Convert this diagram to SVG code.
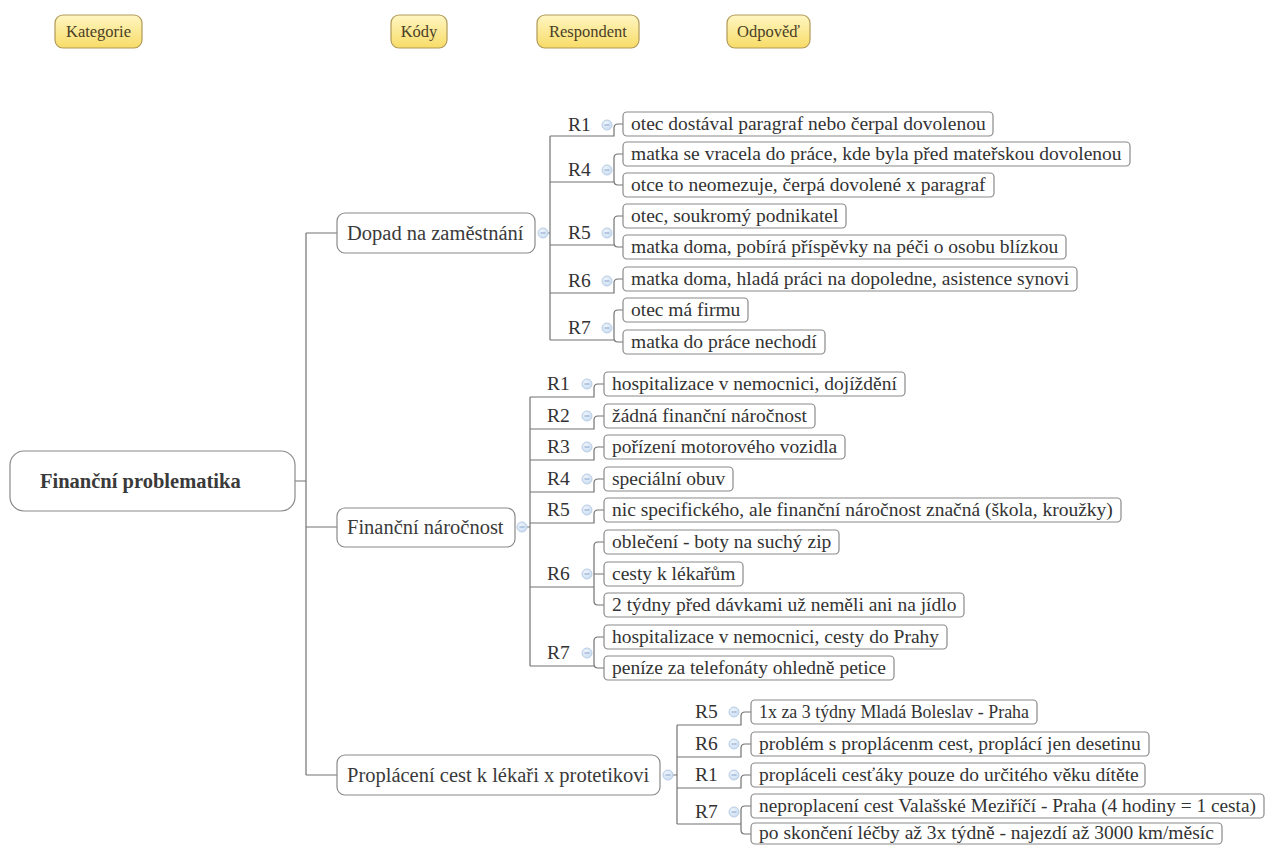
<svg xmlns="http://www.w3.org/2000/svg" width="1266" height="845" viewBox="0 0 1266 845">
  <style>
    .bg { fill: #ffffff; }
    .box { fill: #ffffff; stroke: #8a8a8a; stroke-width: 1.2; }
    .hbox { fill: url(#yellow); stroke: #b09a58; stroke-width: 1.2; }
    .t { font-family: "Liberation Serif", "Times New Roman", serif; font-size: 19.5px; fill: #333333; }
    .t2 { font-family: "Liberation Serif", "Times New Roman", serif; font-size: 20.5px; fill: #3a3a3a; }
    .root { font-family: "Liberation Serif", "Times New Roman", serif; font-size: 20.5px; font-weight: bold; fill: #3a3a3a; }
    .ht { font-family: "Liberation Serif", "Times New Roman", serif; font-size: 16.5px; fill: #4a4026; text-anchor: middle; }
    .lnk { fill: none; stroke: #727272; stroke-width: 1.2; }
    .tog { fill: url(#blue); stroke: #b9cde6; stroke-width: 1; }
    .minus { stroke: #95aed0; stroke-width: 1.2; }
  </style>
  <defs>
    <linearGradient id="yellow" x1="0" y1="0" x2="0" y2="1">
      <stop offset="0" stop-color="#fff6c2"/>
      <stop offset="1" stop-color="#f8dc68"/>
    </linearGradient>
    <radialGradient id="blue" cx="0.4" cy="0.35" r="0.7">
      <stop offset="0" stop-color="#eef4fb"/>
      <stop offset="1" stop-color="#c9dcf1"/>
    </radialGradient>
  </defs>

  <rect class="bg" x="0" y="0" width="1266" height="845"/>

  <!-- column headers -->
  <g id="hdr-kategorie">
    <rect class="hbox" x="55" y="15" width="87" height="33" rx="8"/>
    <text class="ht" x="98.5" y="37">Kategorie</text>
  </g>
  <g id="hdr-kody">
    <rect class="hbox" x="391" y="15" width="56" height="33" rx="8"/>
    <text class="ht" x="419" y="37">Kódy</text>
  </g>
  <g id="hdr-respondent">
    <rect class="hbox" x="537" y="15" width="102" height="33" rx="8"/>
    <text class="ht" x="588" y="37">Respondent</text>
  </g>
  <g id="hdr-odpoved">
    <rect class="hbox" x="727" y="15" width="83" height="33" rx="8"/>
    <text class="ht" x="768.5" y="37">Odpověď</text>
  </g>

  <!-- connectors -->
  <g id="connectors">
    <!-- root trunk -->
    <path class="lnk" d="M295 481 H306 M306 233 V775 M306 233 H337 M306 527 H337 M306 775 H337"/>

    <!-- Dopad na zaměstnání -->
    <path class="lnk" d="M548 233 H550 M550 136 V340"/>
    <path class="lnk" d="M550 136 H614 V128 Q614 124 618 124 H623"/>
    <path class="lnk" d="M550 182 H614 M623 154 H618 Q614 154 614 158 V181 Q614 185 618 185 H623"/>
    <path class="lnk" d="M550 245 H614 M623 216 H618 Q614 216 614 220 V243 Q614 247 618 247 H623"/>
    <path class="lnk" d="M550 293 H614 V283 Q614 279 618 279 H623"/>
    <path class="lnk" d="M550 340 H614 M623 310 H618 Q614 310 614 314 V338 Q614 342 618 342 H623"/>

    <!-- Finanční náročnost -->
    <path class="lnk" d="M527 527 H530 M530 397 V666"/>
    <path class="lnk" d="M530 397 H594 V388 Q594 384 598 384 H604"/>
    <path class="lnk" d="M530 429 H594 V420 Q594 416 598 416 H604"/>
    <path class="lnk" d="M530 460 H594 V451 Q594 447 598 447 H604"/>
    <path class="lnk" d="M530 492 H594 V483 Q594 479 598 479 H604"/>
    <path class="lnk" d="M530 523 H594 V514 Q594 510 598 510 H604"/>
    <path class="lnk" d="M530 587 H594 M604 542 H598 Q594 542 594 546 V601 Q594 605 598 605 H604 M594 574 H604"/>
    <path class="lnk" d="M530 666 H594 M604 637 H598 Q594 637 594 641 V664 Q594 668 598 668 H604"/>

    <!-- Proplácení cest k lékaři x protetikovi -->
    <path class="lnk" d="M673 775 H677 M677 725 V824"/>
    <path class="lnk" d="M677 725 H741 V716 Q741 712 745 712 H751"/>
    <path class="lnk" d="M677 757 H741 V748 Q741 744 745 744 H751"/>
    <path class="lnk" d="M677 788 H741 V779 Q741 775 745 775 H751"/>
    <path class="lnk" d="M677 824 H741 M751 806 H745 Q741 806 741 810 V830 Q741 834 745 834 H751"/>
  </g>

  <!-- root -->
  <g id="root">
    <rect class="box" x="10" y="451" width="285" height="60" rx="14"/>
    <text class="root" x="40" y="488">Finanční problematika</text>
  </g>

  <!-- category: Dopad na zaměstnání -->
  <g id="cat-dopad">
    <rect class="box" x="337" y="213" width="198" height="40" rx="8"/>
    <text class="t2" x="347" y="240">Dopad na zaměstnání</text>
    <circle class="tog" cx="543" cy="233" r="5"/><path class="minus" d="M540.5 233 H545.5"/>
  </g>
  <g id="dopad-r1">
    <text class="t" x="568" y="131">R1</text>
    <circle class="tog" cx="607" cy="125" r="5"/><path class="minus" d="M604.5 125 H609.5"/>
    <rect class="box" x="623" y="112" width="370" height="24" rx="4"/>
    <text class="t" x="631" y="130">otec dostával paragraf nebo čerpal dovolenou</text>
  </g>
  <g id="dopad-r4">
    <text class="t" x="568" y="176">R4</text>
    <circle class="tog" cx="607" cy="170" r="5"/><path class="minus" d="M604.5 170 H609.5"/>
    <rect class="box" x="623" y="142" width="507" height="24" rx="4"/>
    <text class="t" x="631" y="160">matka se vracela do práce, kde byla před mateřskou dovolenou</text>
    <rect class="box" x="623" y="173" width="371" height="24" rx="4"/>
    <text class="t" x="631" y="191">otce to neomezuje, čerpá dovolené x paragraf</text>
  </g>
  <g id="dopad-r5">
    <text class="t" x="568" y="239">R5</text>
    <circle class="tog" cx="607" cy="233" r="5"/><path class="minus" d="M604.5 233 H609.5"/>
    <rect class="box" x="623" y="204" width="223" height="24" rx="4"/>
    <text class="t" x="631" y="222">otec, soukromý podnikatel</text>
    <rect class="box" x="623" y="235" width="443" height="24" rx="4"/>
    <text class="t" x="631" y="253">matka doma, pobírá příspěvky na péči o osobu blízkou</text>
  </g>
  <g id="dopad-r6">
    <text class="t" x="568" y="287">R6</text>
    <circle class="tog" cx="607" cy="281" r="5"/><path class="minus" d="M604.5 281 H609.5"/>
    <rect class="box" x="623" y="267" width="454" height="24" rx="4"/>
    <text class="t" x="631" y="285">matka doma, hladá práci na dopoledne, asistence synovi</text>
  </g>
  <g id="dopad-r7">
    <text class="t" x="568" y="334">R7</text>
    <circle class="tog" cx="607" cy="328" r="5"/><path class="minus" d="M604.5 328 H609.5"/>
    <rect class="box" x="623" y="298" width="125" height="24" rx="4"/>
    <text class="t" x="631" y="316">otec má firmu</text>
    <rect class="box" x="623" y="330" width="202" height="24" rx="4"/>
    <text class="t" x="631" y="348">matka do práce nechodí</text>
  </g>

  <!-- category: Finanční náročnost -->
  <g id="cat-narocnost">
    <rect class="box" x="337" y="508" width="178" height="39" rx="8"/>
    <text class="t2" x="347" y="534">Finanční náročnost</text>
    <circle class="tog" cx="522" cy="527" r="5"/><path class="minus" d="M519.5 527 H524.5"/>
  </g>
  <g id="naroc-r1">
    <text class="t" x="547" y="390">R1</text>
    <circle class="tog" cx="587" cy="384" r="5"/><path class="minus" d="M584.5 384 H589.5"/>
    <rect class="box" x="604" y="372" width="301" height="24" rx="4"/>
    <text class="t" x="612" y="390">hospitalizace v nemocnici, dojíždění</text>
  </g>
  <g id="naroc-r2">
    <text class="t" x="547" y="422">R2</text>
    <circle class="tog" cx="587" cy="416" r="5"/><path class="minus" d="M584.5 416 H589.5"/>
    <rect class="box" x="604" y="404" width="211" height="24" rx="4"/>
    <text class="t" x="612" y="422">žádná finanční náročnost</text>
  </g>
  <g id="naroc-r3">
    <text class="t" x="547" y="453">R3</text>
    <circle class="tog" cx="587" cy="447" r="5"/><path class="minus" d="M584.5 447 H589.5"/>
    <rect class="box" x="604" y="435" width="241" height="24" rx="4"/>
    <text class="t" x="612" y="453">pořízení motorového vozidla</text>
  </g>
  <g id="naroc-r4">
    <text class="t" x="547" y="485">R4</text>
    <circle class="tog" cx="587" cy="479" r="5"/><path class="minus" d="M584.5 479 H589.5"/>
    <rect class="box" x="604" y="467" width="129" height="24" rx="4"/>
    <text class="t" x="612" y="485">speciální obuv</text>
  </g>
  <g id="naroc-r5">
    <text class="t" x="547" y="516">R5</text>
    <circle class="tog" cx="587" cy="510" r="5"/><path class="minus" d="M584.5 510 H589.5"/>
    <rect class="box" x="604" y="498" width="517" height="24" rx="4"/>
    <text class="t" x="612" y="516">nic specifického, ale finanční náročnost značná (škola, kroužky)</text>
  </g>
  <g id="naroc-r6">
    <text class="t" x="547" y="580">R6</text>
    <circle class="tog" cx="587" cy="574" r="5"/><path class="minus" d="M584.5 574 H589.5"/>
    <rect class="box" x="604" y="530" width="235" height="24" rx="4"/>
    <text class="t" x="612" y="548">oblečení - boty na suchý zip</text>
    <rect class="box" x="604" y="562" width="139" height="24" rx="4"/>
    <text class="t" x="612" y="580">cesty k lékařům</text>
    <rect class="box" x="604" y="593" width="360" height="24" rx="4"/>
    <text class="t" x="612" y="611">2 týdny před dávkami už neměli ani na jídlo</text>
  </g>
  <g id="naroc-r7">
    <text class="t" x="547" y="659">R7</text>
    <circle class="tog" cx="587" cy="653" r="5"/><path class="minus" d="M584.5 653 H589.5"/>
    <rect class="box" x="604" y="625" width="343" height="24" rx="4"/>
    <text class="t" x="612" y="643">hospitalizace v nemocnici, cesty do Prahy</text>
    <rect class="box" x="604" y="656" width="290" height="24" rx="4"/>
    <text class="t" x="612" y="674">peníze za telefonáty ohledně petice</text>
  </g>

  <!-- category: Proplácení cest k lékaři x protetikovi -->
  <g id="cat-proplaceni">
    <rect class="box" x="337" y="755" width="323" height="40" rx="8"/>
    <text class="t2" x="347" y="782">Proplácení cest k lékaři x protetikovi</text>
    <circle class="tog" cx="668" cy="775" r="5"/><path class="minus" d="M665.5 775 H670.5"/>
  </g>
  <g id="propl-r5">
    <text class="t" x="695" y="718">R5</text>
    <circle class="tog" cx="734" cy="712" r="5"/><path class="minus" d="M731.5 712 H736.5"/>
    <rect class="box" x="751" y="700" width="286" height="24" rx="4"/>
    <text class="t" x="759" y="718" textLength="270" lengthAdjust="spacingAndGlyphs">1x za 3 týdny Mladá Boleslav - Praha</text>
  </g>
  <g id="propl-r6">
    <text class="t" x="695" y="750">R6</text>
    <circle class="tog" cx="734" cy="744" r="5"/><path class="minus" d="M731.5 744 H736.5"/>
    <rect class="box" x="751" y="732" width="398" height="24" rx="4"/>
    <text class="t" x="759" y="750">problém s proplácenm cest, proplácí jen desetinu</text>
  </g>
  <g id="propl-r1">
    <text class="t" x="695" y="781">R1</text>
    <circle class="tog" cx="734" cy="775" r="5"/><path class="minus" d="M731.5 775 H736.5"/>
    <rect class="box" x="751" y="763" width="394" height="24" rx="4"/>
    <text class="t" x="759" y="781">propláceli cesťáky pouze do určitého věku dítěte</text>
  </g>
  <g id="propl-r7">
    <text class="t" x="695" y="818">R7</text>
    <circle class="tog" cx="734" cy="812" r="5"/><path class="minus" d="M731.5 812 H736.5"/>
    <rect class="box" x="751" y="794" width="513" height="24" rx="4"/>
    <text class="t" x="759" y="812" textLength="497" lengthAdjust="spacingAndGlyphs">neproplacení cest Valašské Meziříčí - Praha (4 hodiny = 1 cesta)</text>
    <rect class="box" x="751" y="823" width="471" height="21" rx="4"/>
    <text class="t" x="759" y="839">po skončení léčby až 3x týdně - najezdí až 3000 km/měsíc</text>
  </g>
</svg>
